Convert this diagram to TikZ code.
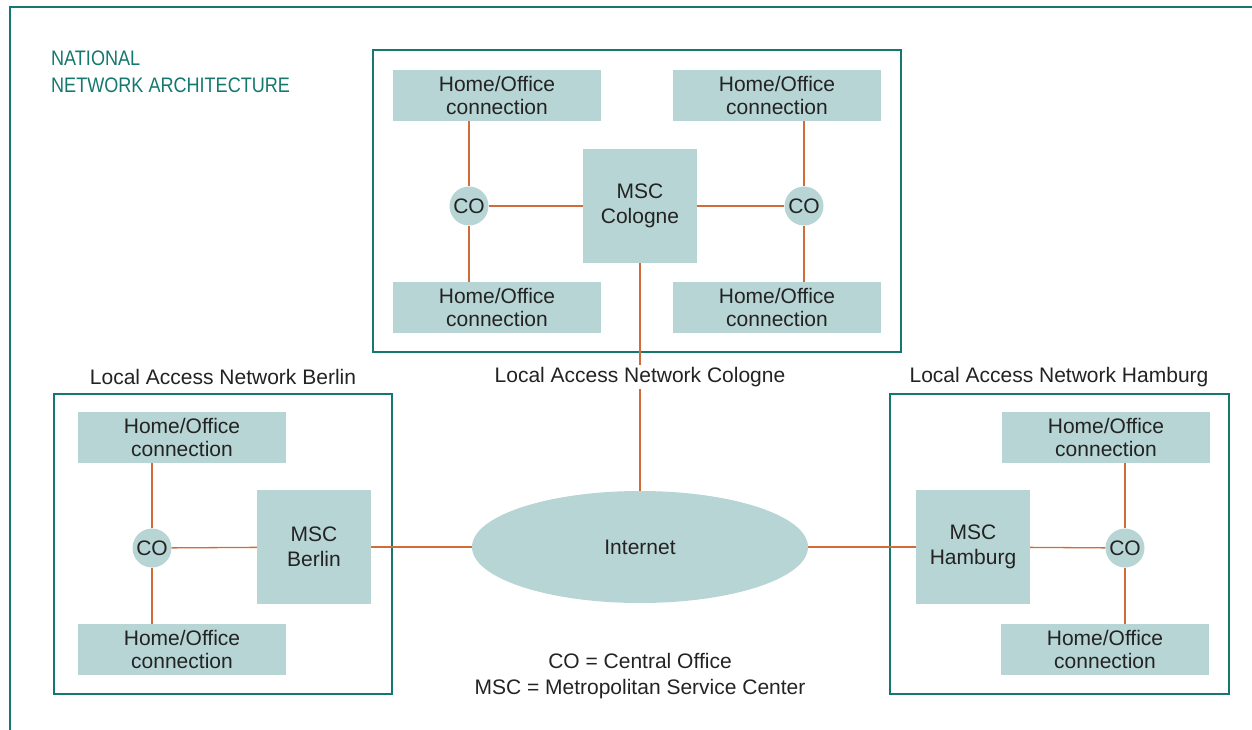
\documentclass[tikz,border=0pt]{standalone}
\usepackage{fontspec}
\setmainfont{Liberation Sans}
\newfontfamily\titlefont{Liberation Sans}[FakeStretch=0.86]
\usetikzlibrary{shapes.geometric}
\definecolor{NetTeal}{RGB}{20,120,110}
\definecolor{NetFill}{RGB}{183,213,212}
\definecolor{NetOrange}{RGB}{208,108,58}
\definecolor{NetText}{RGB}{35,35,35}

\begin{document}
\begin{tikzpicture}[x=1pt,y=-1pt,
  every node/.style={text=NetText,font=\fontsize{21}{22.5}\selectfont},
  ho/.style={fill=NetFill,align=center,minimum width=208pt,minimum height=51pt,inner sep=0pt},
  msc/.style={fill=NetFill,align=center,minimum size=114pt,inner sep=0pt,
              font=\fontsize{21}{25}\selectfont},
  co/.style={circle,fill=NetFill,minimum size=39pt,inner sep=0pt},
  cloud/.style={ellipse,fill=NetFill,minimum width=336pt,minimum height=112pt,inner sep=0pt},
  region/.style={draw=NetTeal,line width=1.5pt,minimum width=#1,minimum height=300pt,inner sep=0pt},
  lbl/.style={fill=white,inner sep=2pt},
  link/.style={draw=NetOrange,line width=1.3pt}
]
\useasboundingbox (0,0) rectangle (1252,730);

% outer frame, open at right and bottom
\draw[NetTeal,line width=1.5pt] (1252,7) -- (10,7) -- (10,730);
\node[anchor=north west,align=left,inner sep=0pt,text=NetTeal,
      font=\titlefont\fontsize{21}{27}\selectfont] (title) at (51,51) {NATIONAL\\NETWORK ARCHITECTURE};

% access network frames
\node[region=528pt,minimum height=302pt] (colnet) at (637,201) {};
\node[region=338pt] (bernet) at (223,544) {};
\node[region=339pt] (hamnet) at (1059.5,544) {};

% Cologne
\node[ho] (hoCTL) at (497,95.5) {Home/Office\\connection};
\node[ho] (hoCTR) at (777,95.5) {Home/Office\\connection};
\node[ho] (hoCBL) at (497,307.5) {Home/Office\\connection};
\node[ho] (hoCBR) at (777,307.5) {Home/Office\\connection};
\node[msc] (mscC) at (640,206) {MSC\\Cologne};
\node[co] (coCL) at (469,206) {CO};
\node[co] (coCR) at (804,206) {CO};

% Berlin
\node[ho] (hoBT) at (182,437.5) {Home/Office\\connection};
\node[ho] (hoBB) at (182,649.5) {Home/Office\\connection};
\node[msc] (mscB) at (314,547) {MSC\\Berlin};
\node[co] (coB) at (152,548) {CO};

% Hamburg
\node[ho] (hoHT) at (1106,437.5) {Home/Office\\connection};
\node[ho] (hoHB) at (1105,649.5) {Home/Office\\connection};
\node[msc] (mscH) at (973,547) {MSC\\Hamburg};
\node[co] (coH) at (1125,548) {CO};

% backbone
\node[cloud] (inet) at (640,547) {Internet};

\draw[link] (coCL) -- (coCL |- hoCTL.south); \draw[link] (coCL) -- (coCL |- hoCBL.north); \draw[link] (coCL) -- (mscC);
\draw[link] (coCR) -- (coCR |- hoCTR.south); \draw[link] (coCR) -- (coCR |- hoCBR.north); \draw[link] (coCR) -- (mscC);
\draw[link] (coB) -- (coB |- hoBT.south); \draw[link] (coB) -- (coB |- hoBB.north); \draw[link] (coB) -- (mscB);
\draw[link] (coH) -- (coH |- hoHT.south); \draw[link] (coH) -- (coH |- hoHB.north); \draw[link] (coH) -- (mscH);
\draw[link] (mscC) -- (inet); \draw[link] (mscB) -- (inet); \draw[link] (inet) -- (mscH);

% labels
\node[lbl] (colLbl) at (640,377) {Local Access Network Cologne};
\node[lbl] (berLbl) at (223,377) {Local Access Network Berlin};
\node[lbl] (hamLbl) at (1059,377) {Local Access Network Hamburg};
\node[align=center,font=\fontsize{21}{26}\selectfont] (legend) at (640,676)
  {CO = Central Office\\MSC = Metropolitan Service Center};
\end{tikzpicture}
\end{document}
